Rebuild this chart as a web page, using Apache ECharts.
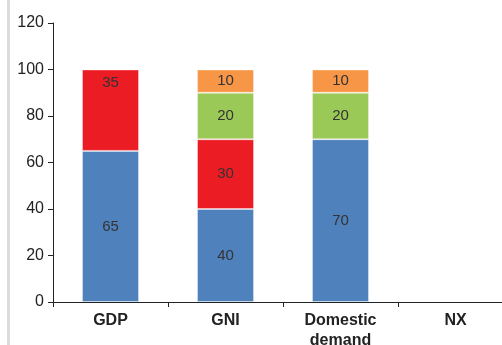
<!DOCTYPE html>
<html>
<head>
<meta charset="utf-8">
<script src="https://cdn.jsdelivr.net/npm/echarts@6/dist/echarts.min.js"></script>
<style>
  html, body { margin: 0; padding: 0; background: #fff; overflow: hidden; }
  /* plot runs past the right edge in the original, so the chart box is wider than the window */
  #chart { width: 520px; height: 345px; }
</style>
</head>
<body>
<div id="chart"></div>
<script>
// categories and stacked parts
var categories = ['GDP', 'GNI', 'Domestic\ndemand', 'NX'];
var blueVals = [65, 40, 70, null];
var redVals = [35, 30, null, null];
var greenVals = [null, 20, 20, null];
var orangeVals = [null, 10, 10, null];
var yTicks = [0, 20, 40, 60, 80, 100, 120];

var myChart = echarts.init(document.getElementById('chart'));

function part(name, vals, color) {
    return {
        name: name,
        type: 'bar',
        stack: 'total',
        barWidth: 57,
        data: vals,
        itemStyle: { color: color, borderColor: 'rgba(255,255,255,0.35)', borderWidth: 1 },
        label: {
            show: true,
            position: 'inside',
            color: '#333',
            fontSize: 15,
            fontFamily: 'Liberation Sans'
        }
    };
}

var redSeries = part('red', redVals, '#EC1C24');
// the 35 label sits near the top of its block
redSeries.data = redVals.map(function (v, i) {
    if (i === 0) return { value: v, label: { position: 'insideTop', distance: 6 } };
    return v;
});

var option = {
    animation: false,
    grid: { left: 53, top: 23, width: 460, height: 279, containLabel: false, outerBoundsMode: 'none' },
    graphic: [{
        type: 'rect',
        shape: { x: 7, y: 0, width: 3, height: 345 },
        style: { fill: '#dcdcdc' }
    }],
    xAxis: {
        type: 'category',
        data: categories,
        axisLine: { lineStyle: { color: '#222', width: 1 } },
        axisTick: { show: true, length: 5, alignWithLabel: false, lineStyle: { color: '#222' } },
        axisLabel: {
            color: '#222',
            fontSize: 16,
            fontWeight: 'bold',
            fontFamily: 'Liberation Sans',
            margin: 9,
            lineHeight: 20
        }
    },
    yAxis: {
        type: 'value',
        min: yTicks[0],
        max: yTicks[yTicks.length - 1],
        interval: 20,
        axisLine: { show: true, lineStyle: { color: '#222', width: 1 } },
        axisTick: { show: true, length: 5, lineStyle: { color: '#222' } },
        splitLine: { show: false },
        axisLabel: {
            color: '#222',
            fontSize: 16,
            fontFamily: 'Liberation Sans',
            margin: 9
        }
    },
    series: [
        part('blue', blueVals, '#4F81BD'),
        redSeries,
        part('green', greenVals, '#9BC957'),
        part('orange', orangeVals, '#F79646')
    ]
};
myChart.setOption(option);
</script>
</body>
</html>
